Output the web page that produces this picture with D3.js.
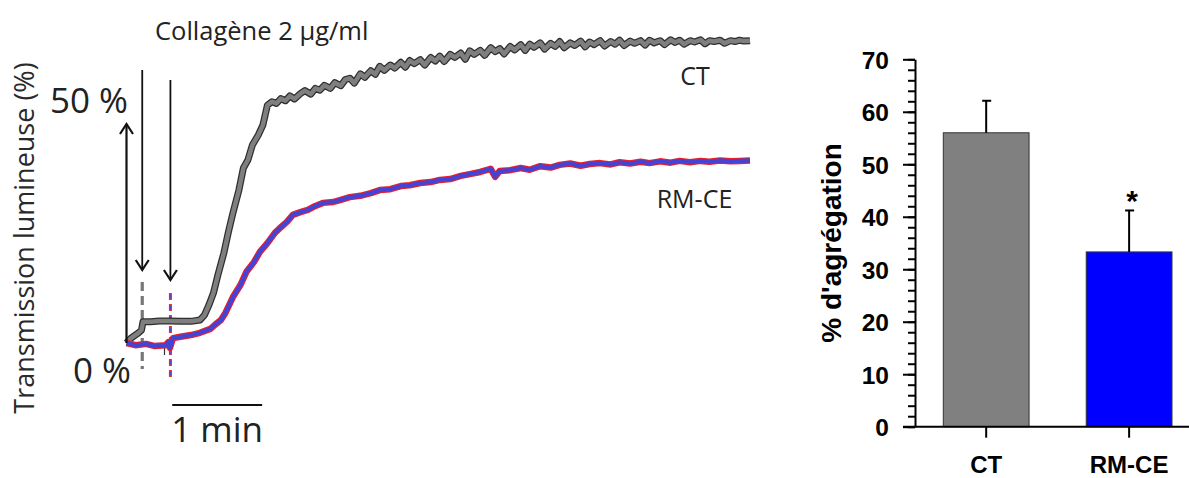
<!DOCTYPE html>
<html><head><meta charset="utf-8">
<script src="https://cdn.jsdelivr.net/npm/d3@7"></script>
<style>html,body{margin:0;padding:0;background:#fff;}svg{display:block;}</style>
</head><body>
<svg id="c" width="1189" height="478"></svg>
<script>
// ---------- DATA ----------
// Left panel: aggregation traces (time in s, light transmission in %)
const ctTime = [0,3,8,10,11,16,22,29,36,43,49,52,55,58,61,65,68,71,75,78,81,84,88,91,94,97,100,103,106,109,112,116,119,123,126,129,132,136,139,143,146,149,152,156,159,163,166,169,172,176,179,183,186,189,192,196,199,203,206,209,212,216,219,223,226,229,232,236,239,243,246,249,252,256,259,263,266,269,272,276,279,283,286,289,292,296,299,303,306,309,312,316,319,323,326,329,332,336,339,343,346,349,352,356,359,363,366,369,372,376,379,383,386,389,392,396,399,403,406,409,412,416];
const ctValue = [0,1.1,2.3,2.9,4.8,4.8,5.0,5.0,4.9,4.9,5.2,6.3,8.6,11.3,15.4,20.4,25.1,29.4,34.6,39.6,41.4,44.8,47.1,49.3,53.8,54.6,54.2,55.3,54.8,55.9,55.2,56.4,57.1,56.3,57.6,57.2,58.3,57.6,58.9,58.2,59.6,59.9,58.8,60.9,60.1,61.6,60.8,62.6,61.7,62.9,62.2,63.5,62.4,63.9,63.2,64.1,62.9,64.6,63.8,64.9,63.7,65.3,64.6,65.6,64.2,66.1,65.3,66.2,65.1,66.8,65.9,66.6,65.4,67.1,66.3,67.5,66.2,67.6,66.9,67.9,66.5,67.8,67.1,68.2,66.8,67.9,67.3,68.3,67.0,68.1,67.5,68.4,67.2,68.2,67.6,68.5,67.3,68.3,67.8,68.4,67.4,68.5,67.9,68.4,67.5,68.6,68.0,68.5,67.6,68.4,68.1,68.6,67.7,68.4,68.2,68.5,67.8,68.4,68.2,68.5,68.3,68.4];
const rmTime = [0,6,13,19,26,28,29,31,36,43,49,56,59,63,66,71,76,80,85,89,94,99,103,107,111,116,121,126,131,138,143,149,156,163,169,176,183,189,196,203,209,216,223,229,236,243,246,249,256,263,269,276,283,289,296,303,309,316,323,329,336,343,349,356,363,369,376,383,389,396,403,409,416];
const rmValue = [0,-0.5,-0.2,-0.7,-0.5,0.2,-1.1,1.1,1.4,1.8,2.3,3.2,4.1,5.2,6.8,10.4,13.1,16.1,18.3,20.6,22.6,24.9,26.2,27.4,29.0,29.6,30.1,31.0,31.7,31.9,32.4,33.0,33.3,33.9,34.6,34.8,35.5,35.7,36.2,36.4,36.9,37.1,37.8,38.2,38.7,39.4,37.6,38.9,39.1,39.6,39.2,40.0,39.7,40.3,40.6,40.1,40.5,40.7,40.4,40.9,40.6,41.0,40.7,41.1,40.8,41.2,40.9,41.2,41.0,41.3,41.1,41.2,41.3];
const traceLabels = ["CT", "RM-CE"];
const traceTicks = [0, 50];            // % marks on the trace scale
const collagenTimes = [10.5, 29.3];    // s, collagen addition (CT, RM-CE)

// Right panel: bar chart
const categories = ["CT", "RM-CE"];
const means = [56, 33.3];
const errors = [6.1, 7.9];
const yMajorTicks = [0, 10, 20, 30, 40, 50, 60, 70];
const yMinorTicks = d3.range(0, 71, 2);

// ---------- DRAW ----------
const svg = d3.select("#c");
svg.append("rect").attr("width", 1189).attr("height", 478).attr("fill", "#fff");

// ===== Left panel =====
const L = svg.append("g");
const x = d3.scaleLinear().domain([0, 416]).range([126.5, 750]);
const y = d3.scaleLinear().domain([0, 50]).range([343, 122]);
const lf = "'Open Sans', sans-serif";

const line = d3.line().x(d => x(d[0])).y(d => y(d[1])).curve(d3.curveLinear);
const ctData = ctTime.map((t, i) => [t, ctValue[i]]);
const rmData = rmTime.map((t, i) => [t, rmValue[i]]);

// dashed markers
L.append("line").attr("x1", x(collagenTimes[0])).attr("x2", x(collagenTimes[0]))
  .attr("y1", 282).attr("y2", 369).attr("stroke", "#777").attr("stroke-width", 3.2)
  .attr("stroke-dasharray", "9,5");
L.append("line").attr("x1", x(collagenTimes[1])).attr("x2", x(collagenTimes[1]))
  .attr("y1", 293).attr("y2", 380).attr("stroke", "#e8303a").attr("stroke-width", 3)
  .attr("stroke-dasharray", "7,4");
L.append("line").attr("x1", x(collagenTimes[1])).attr("x2", x(collagenTimes[1]))
  .attr("y1", 293).attr("y2", 380).attr("stroke", "#4a4ad8").attr("stroke-width", 2.2)
  .attr("stroke-dasharray", "4,7").attr("stroke-dashoffset", -1.5);
// small tick near baseline
L.append("line").attr("x1", 164.5).attr("x2", 164.5).attr("y1", 345).attr("y2", 355)
  .attr("stroke", "#333").attr("stroke-width", 1.2);

// traces
L.append("path").datum(ctData).attr("d", line).attr("fill", "none")
  .attr("stroke", "#2e2e2e").attr("stroke-width", 7).attr("stroke-linejoin", "round");
L.append("path").datum(ctData).attr("d", line).attr("fill", "none")
  .attr("stroke", "#7f7f7f").attr("stroke-width", 4.5).attr("stroke-linejoin", "round");
L.append("path").datum(rmData).attr("d", line).attr("fill", "none")
  .attr("stroke", "#e8202c").attr("stroke-width", 6.5).attr("stroke-linejoin", "round");
L.append("path").datum(rmData).attr("d", line).attr("fill", "none")
  .attr("stroke", "#4343d6").attr("stroke-width", 4.2).attr("stroke-linejoin", "round");

// arrows
function chevron(g, cx, cy, dir) { // dir: -1 up, 1 down
  g.append("path").attr("d", `M${cx-6.5},${cy - dir*10}L${cx},${cy}L${cx+6.5},${cy - dir*10}`)
    .attr("fill", "none").attr("stroke", "#111").attr("stroke-width", 2.2);
}
L.append("line").attr("x1", x(0)).attr("x2", x(0)).attr("y1", y(traceTicks[0])).attr("y2", y(traceTicks[1]) + 2)
  .attr("stroke", "#111").attr("stroke-width", 2.2);
chevron(L, x(0), y(traceTicks[1]) + 2, -1);
L.append("line").attr("x1", x(collagenTimes[0])).attr("x2", x(collagenTimes[0])).attr("y1", 70).attr("y2", 270)
  .attr("stroke", "#111").attr("stroke-width", 1.8);
chevron(L, x(collagenTimes[0]), 270, 1);
L.append("line").attr("x1", x(collagenTimes[1])).attr("x2", x(collagenTimes[1])).attr("y1", 80).attr("y2", 280)
  .attr("stroke", "#111").attr("stroke-width", 1.8);
chevron(L, x(collagenTimes[1]), 280, 1);

// texts
L.append("text").attr("x", 155).attr("y", 40).attr("font-family", lf).attr("font-size", 25.5)
  .attr("fill", "#222").text("Collagène 2 µg/ml");
L.append("text").attr("x", 128).attr("y", 113).attr("text-anchor", "end").attr("font-family", lf)
  .attr("font-size", 35).attr("fill", "#222").text(traceTicks[1] + " %");
L.append("text").attr("x", 131).attr("y", 383).attr("text-anchor", "end").attr("font-family", lf)
  .attr("font-size", 35).attr("fill", "#222").text(traceTicks[0] + " %");
L.append("text").attr("transform", "translate(34,238) rotate(-90)").attr("text-anchor", "middle")
  .attr("font-family", lf).attr("font-size", 27).attr("fill", "#2a2a2a").text("Transmission lumineuse (%)");
L.append("text").attr("x", 695).attr("y", 85).attr("text-anchor", "middle").attr("font-family", lf)
  .attr("font-size", 25).attr("fill", "#222").text(traceLabels[0]);
L.append("text").attr("x", 694.5).attr("y", 208).attr("text-anchor", "middle").attr("font-family", lf)
  .attr("font-size", 25).attr("fill", "#222").text(traceLabels[1]);
// scale bar: 1 min
L.append("line").attr("x1", x(30.5)).attr("x2", x(90.5)).attr("y1", 405).attr("y2", 405)
  .attr("stroke", "#111").attr("stroke-width", 2.2);
L.append("text").attr("x", (x(30.5) + x(90.5)) / 2).attr("y", 442).attr("text-anchor", "middle")
  .attr("font-family", lf).attr("font-size", 35).attr("fill", "#222").text("1 min");

// ===== Right panel =====
const R = svg.append("g");
const bf = "'Liberation Sans', Arial, sans-serif";
const yb = d3.scaleLinear().domain([0, 70]).range([426.7, 59.3]);
const xb = d3.scaleBand().domain(categories).range([943.3, 1172]).paddingInner(0.4).paddingOuter(0);
const colors = ["#808080", "#0000ff"];

R.selectAll("rect.bar").data(categories).enter().append("rect").attr("class", "bar")
  .attr("x", d => xb(d)).attr("width", xb.bandwidth())
  .attr("y", (d, i) => yb(means[i])).attr("height", (d, i) => yb(0) - yb(means[i]))
  .attr("fill", (d, i) => colors[i]).attr("stroke", "#333").attr("stroke-width", 1);

categories.forEach((c, i) => {
  const cx = xb(c) + xb.bandwidth() / 2;
  R.append("line").attr("x1", cx).attr("x2", cx).attr("y1", yb(means[i])).attr("y2", yb(means[i] + errors[i]))
    .attr("stroke", "#000").attr("stroke-width", 2);
  R.append("line").attr("x1", cx - 4).attr("x2", cx + 5).attr("y1", yb(means[i] + errors[i])).attr("y2", yb(means[i] + errors[i]))
    .attr("stroke", "#000").attr("stroke-width", 2);
});
R.append("text").attr("x", xb("RM-CE") + xb.bandwidth() / 2 + 3).attr("y", 211).attr("text-anchor", "middle")
  .attr("font-family", bf).attr("font-weight", "bold").attr("font-size", 30).text("*");

const yMinor = R.append("g").attr("transform", "translate(915,0)")
  .call(d3.axisLeft(yb).tickValues(yMinorTicks).tickSize(7).tickFormat(""));
yMinor.select(".domain").remove();
yMinor.selectAll("line").attr("stroke", "#000").attr("stroke-width", 2);
const yAx = R.append("g").attr("transform", "translate(915,0)")
  .call(d3.axisLeft(yb).tickValues(yMajorTicks).tickSize(12).tickSizeOuter(0).tickPadding(14));
yAx.select(".domain").attr("stroke", "#000").attr("stroke-width", 2);
yAx.selectAll("line").attr("stroke", "#000").attr("stroke-width", 2);
yAx.selectAll("text").attr("font-family", bf).attr("font-weight", "bold").attr("font-size", 24.5).attr("fill", "#000").attr("dy", "0.36em");

const xAx = R.append("g").attr("transform", `translate(0,${yb(0)})`)
  .call(d3.axisBottom(xb).tickSize(11).tickSizeOuter(0).tickPadding(18));
xAx.select(".domain").attr("d", `M903,0H1189`).attr("stroke", "#000").attr("stroke-width", 2);
xAx.selectAll("line").attr("stroke", "#000").attr("stroke-width", 2);
xAx.selectAll("text").attr("font-family", bf).attr("font-weight", "bold").attr("font-size", 24).attr("fill", "#000");

R.append("text").attr("transform", "translate(841,243) rotate(-90)").attr("text-anchor", "middle")
  .attr("font-family", bf).attr("font-weight", "bold").attr("font-size", 28).text("% d'agrégation");
</script>
</body></html>
